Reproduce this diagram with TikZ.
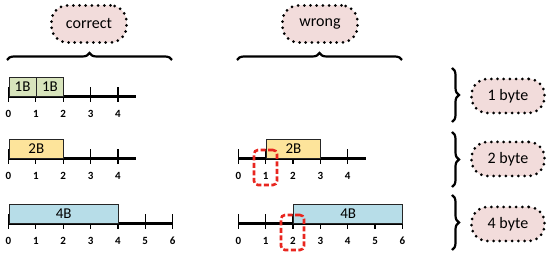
\documentclass[tikz,border=0pt]{standalone}
\usepackage{fontspec}
\setmainfont{Carlito}
\usetikzlibrary{positioning,calc,decorations.pathreplacing}
\definecolor{cellgreen}{HTML}{D8E4BC}
\definecolor{cellyellow}{HTML}{FDE49B}
\definecolor{cellblue}{HTML}{B7DDE8}
\definecolor{bubblepink}{HTML}{F2DCDB}
\definecolor{errred}{HTML}{E8261F}

\begin{document}
\begin{tikzpicture}[
    x=1pt,y=1pt,
    axis/.style={line width=3pt},
    tickmark/.style={line width=1.2pt},
    cell/.style={draw=black!85,line width=0.9pt,minimum height=19pt,inner sep=0pt,anchor=south west,font=\fontsize{15}{15}\selectfont},
    num/.style={font=\bfseries\fontsize{11}{11}\selectfont,inner sep=0pt},
    bubble/.style={fill=bubblepink,draw=black,line width=3pt,dash pattern=on 0pt off 6.2pt,line cap=round,rounded corners=16pt,minimum width=73pt,minimum height=34pt,font=\fontsize{16}{16}\selectfont},
    brace/.style={decorate,decoration={brace,amplitude=7pt},line width=2.2pt},
    errbox/.style={draw=errred,dash pattern=on 5pt off 2.5pt,line width=2.6pt,rounded corners=4pt,minimum width=23pt,minimum height=35pt,inner sep=0pt}
]
\useasboundingbox (0,0) rectangle (550,256);
\def\u{27.35}

% axes: left column "correct", right column "wrong"
\coordinate (c1) at (8.5,159);
\coordinate (c2) at (8.5,97);
\coordinate (c3) at (8.5,32);
\coordinate (w2) at (238.3,97);
\coordinate (w3) at (238.3,32);
\foreach \r/\n in {c1/4,c2/4,w2/4,c3/6,w3/6} {
  \ifnum\n=4 \coordinate (\r end) at ($(\r)+(4.67*\u,0)$);
  \else \coordinate (\r end) at ($(\r)+(6*\u,0)$); \fi
  \draw[axis] (\r) -- (\r end);
  \foreach \i in {0,...,\n} {
    \draw[tickmark] ($(\r)+(\i*\u,-5)$) -- ++(0,15);
    \node[num] (\r n\i) at ($(\r)+(\i*\u,-17)$) {\i};
  }
}

% cells
\node[cell,fill=cellgreen,minimum width=\u pt] (c1a) at (c1) {1B};
\node[cell,fill=cellgreen,minimum width=\u pt] (c1b) at ($(c1)+(\u,0)$) {1B};
\node[cell,fill=cellyellow,minimum width=2*\u pt] (c2a) at (c2) {2B};
\node[cell,fill=cellblue,minimum width=4*\u pt] (c3a) at (c3) {4B};
\node[cell,fill=cellyellow,minimum width=2*\u pt] (w2a) at ($(w2)+(\u,0)$) {2B};
\node[cell,fill=cellblue,minimum width=4*\u pt] (w3a) at ($(w3)+(2*\u,0)$) {4B};

% misaligned start
\node[errbox] (e2) at (265.5,88.5) {};
\node[errbox] (e3) at (292.5,23.5) {};

% labels and braces
\node[bubble,minimum height=37pt,minimum width=75pt] (ok) at (89,232) {correct};
\node[bubble,minimum height=37pt,minimum width=75pt] (bad) at (320,232) {wrong};
\node[bubble] (s1) at (508,160) {1 byte};
\node[bubble] (s2) at (508,97) {2 byte};
\node[bubble] (s4) at (508,32) {4 byte};

\coordinate (okl) at (7,196);
\coordinate (okr) at (172,196);
\coordinate (badl) at (237,196);
\coordinate (badr) at (402,196);
\draw[brace] (okl) -- (okr);
\draw[brace] (badl) -- (badr);

\coordinate (s1t) at (452,188);
\coordinate (s1b) at (452,134);
\coordinate (s2t) at (452,124);
\coordinate (s2b) at (452,69);
\coordinate (s4t) at (452,61);
\coordinate (s4b) at (452,6);
\draw[brace] (s1t) -- (s1b);
\draw[brace] (s2t) -- (s2b);
\draw[brace] (s4t) -- (s4b);
\end{tikzpicture}
\end{document}
